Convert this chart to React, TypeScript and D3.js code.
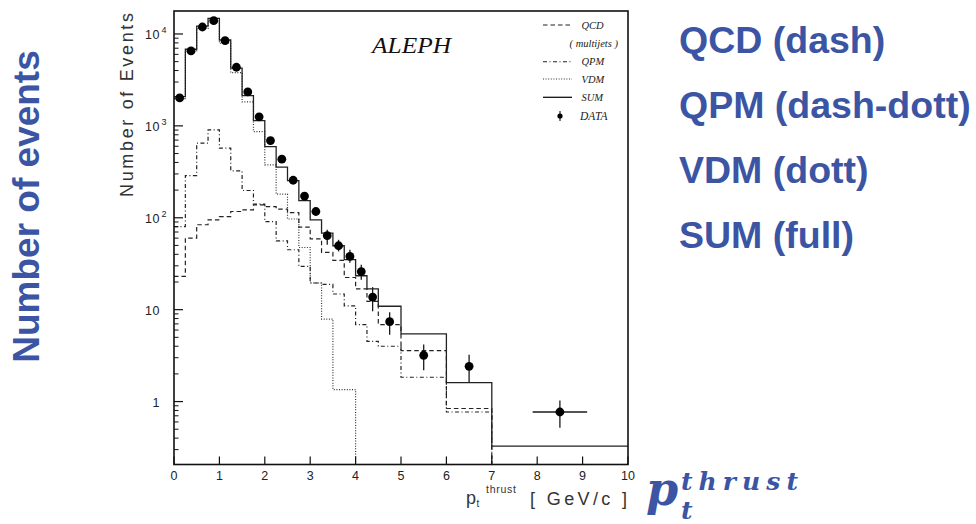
import React from "react";
import * as d3 from "d3";

// ---- data ----
const binEdges = [0, 0.25, 0.5, 0.75, 1, 1.25, 1.5, 1.75, 2, 2.25, 2.5, 2.75, 3, 3.25, 3.5, 3.75, 4, 4.25, 4.5, 5, 6, 7, 10];
const qcdValues = [23, 60, 84, 95, 103, 117, 122, 138, 132, 124, 114, 79, 59, 42, 34.3, 22.4, 16.8, 12.3, 6.87, 3.58, 0.84, 0.17];
const qpmValues = [80, 288, 649, 905, 572, 324, 198, 141, 91, 56, 44.9, 29.6, 19.5, 18.8, 14.8, 11, 6.87, 4.52, 4.0, 1.84, 0.77, 0.15];
const vdmValues = [1977, 6472, 11467, 13800, 7925, 3800, 1820, 867, 377, 181, 97, 47.5, 19.5, 7.9, 1.35, 1.35, 0, 0, 0, 0, 0, 0];
const sumValues = [2080, 6820, 12200, 14800, 8600, 4240, 2135, 1143, 596, 356, 254, 154, 95, 68, 49.6, 35, 23.4, 16.8, 10.9, 5.44, 1.61, 0.327];

const dataX = [0.125, 0.375, 0.625, 0.875, 1.125, 1.375, 1.625, 1.875, 2.125, 2.375, 2.625, 2.875, 3.125, 3.375, 3.625, 3.875, 4.125, 4.375, 4.75, 5.5, 6.5, 8.5];
const dataY = [2015, 6535, 11910, 13960, 8455, 4345, 2343, 1253, 692, 434, 256, 172, 117, 64, 49.6, 38, 26, 13.7, 7.4, 3.19, 2.42, 0.77];
const dataLo = [1970, 6450, 11800, 13840, 8360, 4280, 2295, 1218, 666, 413, 240, 159, 106, 51, 43, 32.4, 21.2, 9.6, 5.35, 2.19, 1.61, 0.518];
const dataHi = [2060, 6620, 12020, 14080, 8550, 4410, 2391, 1288, 718, 455, 272, 185, 128, 74, 57.6, 44.9, 30.9, 17.6, 9.35, 4.17, 3.24, 1.03];
const dataXErr = [0, 0, 0, 0, 0, 0, 0, 0, 0, 0, 0, 0, 0, 0, 0, 0, 0, 0, 0, 0, 0, 0.6];

const xTicks = [0, 1, 2, 3, 4, 5, 6, 7, 8, 9, 10];
const yMajor = [1, 10, 100, 1000, 10000];
const yMajorBase = ["1", "10", "10", "10", "10"];
const yMajorExp = ["", "", "2", "3", "4"];

const legendNames = ["QCD", "( multijets )", "QPM", "VDM", "SUM", "DATA"];
const sideLabels = ["QCD (dash)", "QPM (dash-dott)", "VDM (dott)", "SUM (full)"];

// ---- layout ----
const W = 976, H = 524;
const L = 174, R = 628, T = 11, B = 464.5;
const BLUE = "#3B55A4";
const INK = "#1a1a1a";

export default function App() {
  const x = d3.scaleLinear().domain([0, 10]).range([L, R]);
  const y = d3.scaleLog().domain([0.2066, 17783]).range([B, T]).clamp(true);

  const step = (vals: number[]) => {
    const pts: [number, number][] = vals.map((v, i) => [binEdges[i], Math.max(v, 1e-4)]);
    pts.push([binEdges[binEdges.length - 1], Math.max(vals[vals.length - 1], 1e-4)]);
    return d3.line<[number, number]>()
      .x((d) => x(d[0]))
      .y((d) => y(d[1]))
      .curve(d3.curveStepAfter)(pts) as string;
  };

  const minor: number[] = [];
  [0.1, 1, 10, 100, 1000].forEach((dec) => {
    for (let k = 2; k <= 9; k++) {
      const v = dec * k;
      if (v > 0.2066 && v < 17783) minor.push(v);
    }
  });

  const serif = "'Liberation Serif', 'Times New Roman', serif";
  const sans = "'Liberation Sans', Arial, Helvetica, sans-serif";

  const legendY = [25, 43, 61.7, 79, 97.3, 116];

  return (
    <svg width={W} height={H} style={{ position: "absolute", left: 0, top: 0, background: "#fff" }}>
      <defs>
        <clipPath id="plotclip">
          <rect x={L} y={T} width={R - L} height={B - T} />
        </clipPath>
      </defs>

      {/* histograms */}
      <g clipPath="url(#plotclip)" fill="none">
        <path d={step(vdmValues)} stroke="#333" strokeWidth={1.2} strokeDasharray="1,1.6" />
        <path d={step(qpmValues)} stroke="#222" strokeWidth={1.2} strokeDasharray="4,2.5,1,2.5" />
        <path d={step(qcdValues)} stroke="#222" strokeWidth={1.2} strokeDasharray="4.5,3" />
        <path d={step(sumValues)} stroke="#222" strokeWidth={1.3} />
      </g>

      {/* data points */}
      <g>
        {dataX.map((dx, i) => (
          <g key={i}>
            <line x1={x(dx)} x2={x(dx)} y1={y(dataLo[i])} y2={y(dataHi[i])} stroke={INK} strokeWidth={1.3} />
            {dataXErr[i] > 0 && (
              <line x1={x(dx - dataXErr[i])} x2={x(dx + dataXErr[i])} y1={y(dataY[i])} y2={y(dataY[i])} stroke={INK} strokeWidth={1.3} />
            )}
            <circle cx={x(dx)} cy={y(dataY[i])} r={4.4} fill="#000" />
          </g>
        ))}
      </g>

      {/* frame */}
      <rect x={L} y={T} width={R - L} height={B - T} fill="none" stroke="#111" strokeWidth={1.6} />

      {/* x ticks */}
      {xTicks.map((t) => (
        <g key={"x" + t}>
          <line x1={x(t)} x2={x(t)} y1={B} y2={B - 8} stroke="#111" strokeWidth={1.2} />
          <text x={x(t)} y={479.5} textAnchor="middle" fontFamily={sans} fontSize={12.5} fill="#222">{t}</text>
        </g>
      ))}

      {/* y ticks */}
      {yMajor.map((v, i) => (
        <g key={"ym" + v}>
          <line x1={L} x2={L + 9} y1={y(v)} y2={y(v)} stroke="#111" strokeWidth={1.2} />
          <text x={160} y={y(v) + 5} textAnchor="end" fontFamily={sans} fontSize={12.5} fill="#222" letterSpacing={0.5}>{yMajorBase[i]}</text>
          {yMajorExp[i] && (
            <text x={161.5} y={y(v) - 1} fontFamily={sans} fontSize={9} fill="#222">{yMajorExp[i]}</text>
          )}
        </g>
      ))}
      {minor.map((v) => (
        <line key={"yn" + v} x1={L} x2={L + 4.5} y1={y(v)} y2={y(v)} stroke="#111" strokeWidth={1} />
      ))}

      {/* axis titles */}
      <text transform={`translate(133,105) rotate(-90)`} textAnchor="middle" fontFamily={sans} fontSize={18} fill="#333" textLength={184} lengthAdjust="spacing">Number of Events</text>
      <text x={466} y={504} fontFamily={sans} fontSize={18} fill="#333">p</text>
      <text x={476.5} y={507} fontFamily={sans} fontSize={10} fill="#333">t</text>
      <text x={486} y={493} fontFamily={sans} fontSize={10.5} fill="#333" textLength={30} lengthAdjust="spacing">thrust</text>
      <text x={530} y={505} fontFamily={sans} fontSize={18} fill="#333" textLength={97} lengthAdjust="spacing">[ GeV/c  ]</text>

      {/* ALEPH */}
      <text x={372} y={53} fontFamily={serif} fontStyle="italic" fontSize={23} fill="#111" textLength={79} lengthAdjust="spacingAndGlyphs">ALEPH</text>

      {/* legend */}
      <g fontFamily={serif} fontStyle="italic" fontSize={10.5} fill="#222">
        <line x1={543} x2={572} y1={legendY[0]} y2={legendY[0]} stroke="#222" strokeWidth={1.1} strokeDasharray="4.5,3" />
        <text x={581.5} y={legendY[0] + 3.5}>{legendNames[0]}</text>
        <text x={618} y={legendY[1] + 3.5} textAnchor="end">{legendNames[1]}</text>
        <line x1={543} x2={572} y1={legendY[2]} y2={legendY[2]} stroke="#222" strokeWidth={1.1} strokeDasharray="4,2.5,1,2.5" />
        <text x={581.5} y={legendY[2] + 3.5}>{legendNames[2]}</text>
        <line x1={543} x2={572} y1={legendY[3]} y2={legendY[3]} stroke="#333" strokeWidth={1.1} strokeDasharray="1,1.6" />
        <text x={581.5} y={legendY[3] + 3.5}>{legendNames[3]}</text>
        <line x1={543} x2={572} y1={legendY[4]} y2={legendY[4]} stroke="#111" strokeWidth={1.3} />
        <text x={581.5} y={legendY[4] + 3.5}>{legendNames[4]}</text>
        <line x1={560} x2={560} y1={legendY[5] - 5} y2={legendY[5] + 5} stroke="#111" strokeWidth={1.1} />
        <circle cx={560} cy={legendY[5]} r={2.6} fill="#000" />
        <text x={580} y={legendY[5] + 3.5} fontSize={11.5}>{legendNames[5]}</text>
      </g>

      {/* side annotations */}
      <g fontFamily={sans} fontWeight="bold" fontSize={37.5} fill={BLUE}>
        {sideLabels.map((s, i) => (
          <text key={s} x={679} y={53.3 + i * 65}>{s}</text>
        ))}
      </g>
      <text transform={`translate(39,206.5) rotate(-90)`} textAnchor="middle" fontFamily={sans} fontWeight="bold" fontSize={37} fill={BLUE}>Number of events</text>

      {/* big p_t^thrust */}
      <g fontFamily="'DejaVu Serif', 'Liberation Serif', serif" fontWeight="bold" fontStyle="italic" fill={BLUE}>
        <text x={646} y={505} fontSize={46}>p</text>
        <text x={681} y={519} fontSize={25}>t</text>
        <text x={681} y={490} fontSize={25} textLength={117} lengthAdjust="spacing">thrust</text>
      </g>
    </svg>
  );
}
